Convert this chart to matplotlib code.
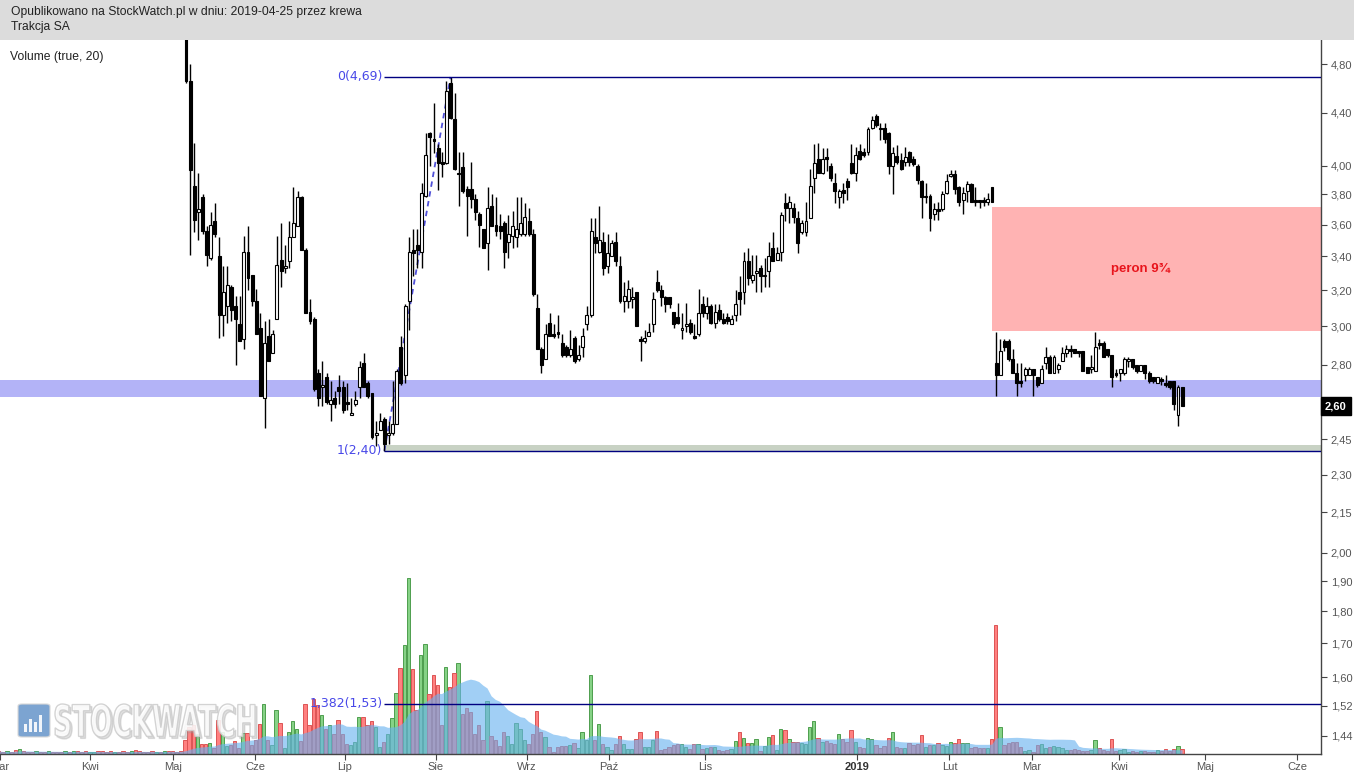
import numpy as np
import pandas as pd
import matplotlib
matplotlib.use('Agg')
import matplotlib.pyplot as plt
import matplotlib.ticker as mticker
from matplotlib.patches import Rectangle, FancyBboxPatch, PathPatch
from matplotlib.textpath import TextPath
from matplotlib.font_manager import FontProperties
from matplotlib.transforms import Affine2D

plt.rcParams['font.family'] = ['Liberation Sans', 'DejaVu Sans']

# ---------------- data (sessions from 1 Mar 2018, index = session number) ----------------
first_candle = 45   # earlier sessions trade above the visible price range

opens = [5.15, 4.66, 3.86, 3.68, 3.78, 3.56, 3.39, 3.62, 3.40, 3.06,
         3.11, 3.22, 3.11, 3.01, 2.93, 3.43, 3.29, 3.14, 2.99, 2.64,
         2.95, 2.86, 3.04, 3.38, 3.33, 3.37, 3.52, 3.59, 3.78, 3.44,
         3.08, 3.04, 2.76, 2.69, 2.74, 2.61, 2.64, 2.69, 2.69, 2.62,
         2.56, 2.61, 2.69, 2.81, 2.71, 2.66, 2.47, 2.49, 2.54, 2.47,
         2.48, 2.52, 2.89, 2.75, 3.14, 3.44, 3.47, 3.43, 3.79, 4.24,
         4.20, 4.13, 4.03, 4.02, 4.64, 4.35, 3.94, 3.99, 3.84, 3.84,
         3.77, 3.67, 3.57, 3.48, 3.72, 3.60, 3.59, 3.61, 3.49, 3.53,
         3.52, 3.54, 3.54, 3.62, 3.54, 3.10, 2.88, 2.83, 3.02, 2.96,
         2.97, 2.91, 2.89, 2.85, 2.94, 2.83, 2.89, 3.01, 3.06, 3.52,
         3.43, 3.49, 3.34, 3.40, 3.49, 3.34, 3.14, 3.14, 3.15, 3.19,
         2.93, 2.92, 2.95, 3.01, 3.25, 3.20, 3.16, 3.16, 3.08, 3.05,
         2.98, 3.00, 3.02, 2.95, 2.96, 3.12, 3.07, 3.11, 3.02, 3.09,
         3.04, 3.05, 3.01, 3.06, 3.19, 3.19, 3.37, 3.26, 3.30, 3.33,
         3.28, 3.31, 3.45, 3.38, 3.43, 3.74, 3.71, 3.71, 3.64, 3.55,
         3.55, 3.64, 3.91, 4.05, 3.95, 4.06, 4.00, 3.88, 3.78, 3.83,
         3.89, 4.02, 3.95, 4.11, 4.10, 4.10, 4.28, 4.37, 4.28, 4.28,
         4.24, 4.00, 4.07, 4.04, 4.03, 4.10, 4.05, 4.00, 3.89, 3.78,
         3.79, 3.67, 3.70, 3.70, 3.81, 3.93, 3.94, 3.85, 3.76, 3.82,
         3.87, 3.76, 3.76, 3.76, 3.75, 3.85, 2.81, 2.75, 2.92, 2.92,
         2.83, 2.76, 2.72, 2.75, 2.75, 2.78, 2.74, 2.71, 2.81, 2.84,
         2.76, 2.78, 2.82, 2.86, 2.88, 2.88, 2.87, 2.87, 2.79, 2.78,
         2.77, 2.91, 2.91, 2.88, 2.85, 2.76, 2.76, 2.76, 2.82, 2.83,
         2.80, 2.77, 2.80, 2.76, 2.74, 2.71, 2.73, 2.71, 2.72, 2.72,
         2.56, 2.69]

highs = [5.25, 4.80, 4.17, 3.95, 3.80, 3.59, 3.68, 3.74, 3.52, 3.34,
         3.34, 3.23, 3.17, 3.17, 3.53, 3.59, 3.29, 3.21, 3.07, 3.03,
         3.04, 2.98, 3.53, 3.61, 3.47, 3.62, 3.85, 3.82, 3.79, 3.45,
         3.15, 3.05, 2.78, 2.82, 2.76, 2.72, 2.67, 2.75, 2.72, 2.71,
         2.64, 2.67, 2.82, 2.86, 2.72, 2.66, 2.53, 2.57, 2.55, 2.53,
         2.72, 2.78, 2.95, 3.12, 3.52, 3.57, 3.57, 3.88, 4.24, 4.25,
         4.48, 4.16, 4.10, 4.66, 4.69, 4.56, 4.10, 4.10, 3.86, 4.03,
         3.80, 3.68, 3.57, 3.85, 3.80, 3.78, 3.67, 3.62, 3.66, 3.69,
         3.78, 3.78, 3.74, 3.71, 3.57, 3.18, 2.89, 3.01, 3.07, 3.01,
         3.06, 2.96, 2.90, 2.98, 2.95, 2.90, 2.99, 3.11, 3.64, 3.64,
         3.72, 3.55, 3.54, 3.50, 3.55, 3.40, 3.25, 3.26, 3.22, 3.19,
         2.95, 2.98, 3.02, 3.19, 3.32, 3.23, 3.17, 3.16, 3.08, 3.13,
         3.07, 3.13, 3.04, 3.01, 3.21, 3.17, 3.16, 3.12, 3.12, 3.12,
         3.07, 3.07, 3.06, 3.20, 3.28, 3.43, 3.45, 3.41, 3.41, 3.35,
         3.39, 3.49, 3.55, 3.46, 3.68, 3.81, 3.79, 3.74, 3.69, 3.63,
         3.75, 3.98, 4.16, 4.17, 4.13, 4.13, 4.02, 3.95, 3.84, 3.88,
         3.91, 4.16, 4.14, 4.16, 4.13, 4.29, 4.37, 4.39, 4.32, 4.32,
         4.25, 4.14, 4.15, 4.09, 4.14, 4.11, 4.07, 4.01, 3.90, 3.88,
         3.80, 3.74, 3.75, 3.82, 3.94, 3.97, 3.97, 3.86, 3.85, 3.89,
         3.88, 3.85, 3.76, 3.78, 3.81, 3.85, 2.97, 2.93, 2.93, 2.93,
         2.88, 2.81, 2.81, 2.79, 2.79, 2.78, 2.74, 2.80, 2.89, 2.85,
         2.85, 2.81, 2.89, 2.90, 2.90, 2.88, 2.87, 2.87, 2.79, 2.85,
         2.97, 2.93, 2.92, 2.88, 2.85, 2.78, 2.78, 2.84, 2.84, 2.83,
         2.80, 2.80, 2.80, 2.77, 2.74, 2.74, 2.74, 2.75, 2.72, 2.72,
         2.70, 2.69]

lows = [4.64, 3.41, 3.55, 3.50, 3.54, 3.34, 3.38, 3.52, 2.94, 2.95,
        3.02, 3.03, 2.80, 2.92, 2.88, 3.20, 3.11, 2.96, 2.65, 2.50,
        2.82, 2.86, 3.04, 3.22, 3.30, 3.33, 3.52, 3.59, 3.44, 3.07,
        3.01, 2.67, 2.60, 2.60, 2.61, 2.53, 2.59, 2.61, 2.57, 2.58,
        2.56, 2.60, 2.64, 2.69, 2.64, 2.45, 2.42, 2.49, 2.40, 2.43,
        2.47, 2.52, 2.70, 2.71, 2.98, 3.28, 3.33, 3.33, 3.78, 4.00,
        4.09, 3.83, 3.92, 4.01, 4.35, 3.97, 3.72, 3.81, 3.53, 3.71,
        3.63, 3.46, 3.45, 3.32, 3.59, 3.53, 3.51, 3.33, 3.39, 3.45,
        3.46, 3.53, 3.53, 3.53, 3.17, 2.88, 2.76, 2.83, 2.95, 2.94,
        2.94, 2.84, 2.84, 2.84, 2.81, 2.82, 2.84, 2.98, 3.05, 3.42,
        3.42, 3.29, 3.30, 3.40, 3.34, 3.13, 3.08, 3.10, 3.10, 3.00,
        2.82, 2.91, 2.95, 2.97, 3.19, 3.11, 3.08, 3.10, 2.99, 3.01,
        2.93, 2.97, 2.96, 2.93, 2.95, 3.05, 3.04, 3.01, 2.99, 3.03,
        3.01, 3.01, 3.01, 3.03, 3.06, 3.12, 3.23, 3.24, 3.19, 3.19,
        3.22, 3.22, 3.37, 3.38, 3.37, 3.62, 3.61, 3.61, 3.42, 3.54,
        3.53, 3.64, 3.81, 3.95, 3.94, 3.96, 3.89, 3.74, 3.71, 3.74,
        3.76, 3.94, 3.89, 4.04, 4.06, 4.08, 4.27, 4.29, 4.19, 4.17,
        3.94, 3.80, 4.01, 3.97, 4.00, 4.00, 4.00, 3.87, 3.64, 3.74,
        3.56, 3.63, 3.63, 3.69, 3.80, 3.92, 3.80, 3.72, 3.67, 3.75,
        3.75, 3.72, 3.71, 3.72, 3.73, 3.75, 2.65, 2.75, 2.87, 2.82,
        2.76, 2.65, 2.69, 2.72, 2.75, 2.65, 2.69, 2.71, 2.78, 2.76,
        2.76, 2.76, 2.82, 2.84, 2.84, 2.86, 2.84, 2.77, 2.76, 2.76,
        2.77, 2.88, 2.84, 2.84, 2.69, 2.74, 2.72, 2.75, 2.79, 2.78,
        2.76, 2.77, 2.73, 2.71, 2.71, 2.71, 2.70, 2.69, 2.68, 2.58,
        2.51, 2.60]

closes = [4.66, 3.97, 3.63, 3.70, 3.56, 3.41, 3.60, 3.54, 3.06, 3.19,
          3.23, 3.09, 3.04, 2.92, 3.43, 3.27, 3.14, 2.96, 2.65, 2.91,
          2.82, 2.96, 3.35, 3.31, 3.34, 3.52, 3.61, 3.78, 3.44, 3.07,
          3.03, 2.68, 2.64, 2.70, 2.62, 2.63, 2.61, 2.67, 2.58, 2.61,
          2.57, 2.63, 2.79, 2.69, 2.65, 2.46, 2.48, 2.53, 2.43, 2.48,
          2.52, 2.77, 2.71, 3.11, 3.43, 3.42, 3.44, 3.81, 4.08, 4.21,
          4.18, 4.02, 4.01, 4.57, 4.36, 3.98, 3.95, 3.82, 3.79, 3.77,
          3.68, 3.60, 3.45, 3.71, 3.59, 3.56, 3.56, 3.43, 3.54, 3.59,
          3.57, 3.61, 3.65, 3.54, 3.18, 2.88, 2.80, 2.96, 2.95, 2.95,
          2.96, 2.85, 2.85, 2.88, 2.82, 2.85, 2.95, 3.06, 3.56, 3.48,
          3.50, 3.33, 3.42, 3.48, 3.37, 3.14, 3.17, 3.21, 3.16, 3.00,
          2.92, 2.94, 2.97, 3.15, 3.20, 3.16, 3.12, 3.12, 3.01, 3.02,
          2.99, 3.01, 2.97, 2.94, 3.07, 3.07, 3.11, 3.02, 3.08, 3.04,
          3.02, 3.03, 3.04, 3.12, 3.15, 3.37, 3.27, 3.29, 3.31, 3.28,
          3.29, 3.40, 3.37, 3.42, 3.66, 3.71, 3.75, 3.65, 3.48, 3.61,
          3.62, 3.86, 4.02, 3.95, 4.05, 4.05, 3.91, 3.82, 3.82, 3.81,
          3.85, 3.95, 4.08, 4.05, 4.08, 4.27, 4.34, 4.30, 4.27, 4.20,
          4.00, 4.09, 4.03, 3.98, 4.06, 4.03, 4.01, 3.90, 3.78, 3.79,
          3.64, 3.70, 3.69, 3.80, 3.89, 3.94, 3.84, 3.75, 3.81, 3.87,
          3.75, 3.75, 3.75, 3.75, 3.77, 3.75, 2.75, 2.87, 2.89, 2.83,
          2.76, 2.71, 2.71, 2.78, 2.78, 2.75, 2.70, 2.78, 2.84, 2.76,
          2.84, 2.80, 2.86, 2.88, 2.87, 2.86, 2.86, 2.77, 2.76, 2.79,
          2.89, 2.90, 2.84, 2.85, 2.74, 2.75, 2.78, 2.83, 2.83, 2.79,
          2.77, 2.80, 2.76, 2.72, 2.72, 2.74, 2.72, 2.70, 2.69, 2.61,
          2.69, 2.60]

# volume in thousand shares, every session from 1 Mar 2018
volume = [30, 20, 30, 20, 40, 50, 30, 20, 20, 30, 20, 20, 30, 20, 20,
          20, 30, 20, 30, 30, 20, 30, 20, 20, 30, 30, 20, 30, 20, 20,
          30, 20, 30, 40, 30, 20, 20, 30, 20, 20, 30, 30, 30, 20, 30,
          140, 270, 290, 200, 100, 100, 110, 60, 340, 220,
          80, 90, 130, 60, 210, 210, 90, 140, 300, 500,
          140, 90, 440, 310, 60, 220, 330, 250, 130, 500,
          290, 550, 490, 390, 250, 290, 200, 340, 200, 100,
          90, 120, 370, 370, 290, 330, 270, 70, 120, 200,
          360, 610, 860, 1090, 1760, 850, 440, 990, 1100, 600,
          790, 690, 290, 870, 670, 810, 910, 400, 460, 420,
          200, 290, 140, 530, 180, 140, 80, 220, 180, 100,
          310, 250, 140, 100, 200, 430, 220, 170, 70, 20,
          70, 80, 80, 90, 110, 60, 220, 140, 790, 140,
          300, 100, 70, 40, 100, 180, 100, 50, 50, 150,
          220, 70, 70, 140, 230, 40, 50, 70, 90, 100,
          100, 70, 50, 100, 100, 50, 60, 70, 70, 40,
          30, 40, 50, 130, 220, 160, 110, 110, 150, 30,
          80, 170, 190, 40, 250, 240, 150, 120, 120, 110,
          100, 270, 330, 160, 120, 130, 110, 100, 200, 150,
          120, 240, 120, 70, 60, 160, 150, 90, 60, 80,
          160, 220, 70, 60, 60, 110, 90, 100, 190, 70,
          90, 90, 110, 90, 80, 120, 110, 150, 110, 110,
          60, 70, 60, 60, 60, 150, 1290, 270, 90, 110,
          120, 120, 70, 30, 40, 20, 90, 100, 60, 70,
          80, 70, 60, 40, 40, 50, 40, 30, 30, 40,
          140, 60, 40, 30, 150, 30, 40, 50, 20, 30,
          20, 30, 30, 20, 20, 40, 30, 50, 30, 50,
          80, 50]
# up / down sessions before the first drawn candle
early_dir = "dduddudddu" "ddudddudud" "dduuddddud" "ddudddddud" "udddd"

month_pos = [0, 21.8, 41.9, 61.7, 83.4, 105.4, 127.4, 147.3, 170.5,
             207.4, 229.7, 249.7, 270.8, 291.6, 313.8]
month_lab = ['Mar', 'Kwi', 'Maj', 'Cze', 'Lip', 'Sie', 'Wrz', 'Paź', 'Lis',
             '2019', 'Lut', 'Mar', 'Kwi', 'Maj', 'Cze']
price_ticks = [4.80, 4.40, 4.00, 3.80, 3.60, 3.40, 3.20, 3.00, 2.80, 2.45,
               2.30, 2.15, 2.00, 1.90, 1.80, 1.70, 1.60, 1.52, 1.44]

fib_lo_idx, fib_lo = 93, 2.40
fib_hi_idx, fib_hi = 109, 4.69
support_band = (2.645, 2.725)
floor_band = (2.40, 2.425)
peron_start = 240
peron_band = (2.975, 3.715)
last_close = 2.60
ma_len = 20

# ---------------- figure ----------------
W, H = 1354, 774
fig = plt.figure(figsize=(W / 100, H / 100), dpi=100)
fig.add_artist(Rectangle((0, 1 - 40 / H), 1, 40 / H, transform=fig.transFigure,
                         fc='#dcdcdc', ec='none'))
fig.text(11 / W, 1 - 12 / H, 'Opublikowano na StockWatch.pl w dniu: 2019-04-25 przez krewa',
         fontsize=8.7, va='center', color='#222222')
fig.text(11 / W, 1 - 27 / H, 'Trakcja SA', fontsize=8.7, va='center', color='#222222')

rect = [0, 1 - 754 / H, 1321 / W, 714 / H]
axv = fig.add_axes(rect)
ax = fig.add_axes(rect)
ax.patch.set_visible(False)
XL = (0.28, 319.6)

# volume panel
n = len(volume)
days = np.arange(n)
cdays = np.arange(first_candle, first_candle + len(closes))
o, hi, lo, c = map(np.array, (opens, highs, lows, closes))
up = np.array([ch == 'u' for ch in early_dir] + list(c >= o))
vol = np.array(volume)
ma = pd.Series(vol).rolling(ma_len, min_periods=1).mean().values

axv.bar(days[up], vol[up], width=0.8, color='#86d286', edgecolor='#4e9e4e', lw=0.7)
axv.bar(days[~up], vol[~up], width=0.8, color='#ff8080', edgecolor='#dc5454', lw=0.7)
axv.fill_between(days, 0, ma, color='#68b2f0', alpha=0.62, lw=0)
axv.set_xlim(*XL)
axv.set_ylim(0, 7140)
axv.axis('off')

# price panel
ax.set_yscale('log')
ax.set_ylim(1.394, 5.011)
ax.set_xlim(*XL)

ax.axhspan(*support_band, color='#b3b3f7', lw=0, zorder=1)
ax.add_patch(Rectangle((peron_start, peron_band[0]), 400, peron_band[1] - peron_band[0],
                       fc='#ffb3b3', ec='none', zorder=1))
ax.text(peron_start + 36, np.sqrt(peron_band[0] * peron_band[1]), 'peron 9¾',
        color='#e8141c', fontsize=9.5, fontweight='bold', ha='center', va='center', zorder=5)
ax.add_patch(Rectangle((fib_lo_idx, floor_band[0]), 400, floor_band[1] - floor_band[0],
                       fc='#c8d2c4', ec='none', zorder=1))

fib_ext = fib_hi - 1.382 * (fib_hi - fib_lo)
ax.hlines([fib_hi, fib_lo, fib_ext], fib_lo_idx, 400, color='#000080', lw=1, zorder=6)
lab_col = '#4848e8'
for lvl, txt in [(fib_hi, '0'), (fib_lo, '1'), (fib_ext, '1,382')]:
    ax.text(fib_lo_idx - 0.5, lvl, f'{txt}({lvl:.2f})'.replace('.', ','), color=lab_col,
            fontsize=9, ha='right', va='center', family='DejaVu Sans', zorder=6)
ax.plot([fib_lo_idx, fib_hi_idx], [fib_lo, fib_hi], color='#5050d8', lw=1.3,
        ls=(0, (3, 2.5)), zorder=2)

# candles
ax.vlines(cdays, lo, hi, color='black', lw=1, zorder=3)
ax.bar(cdays, np.abs(c - o), bottom=np.minimum(o, c), width=0.72,
       color=np.where(c >= o, 'white', 'black'), edgecolor='black', lw=0.8, zorder=4)

# axes styling
ax.yaxis.tick_right()
ax.yaxis.set_major_locator(mticker.FixedLocator(price_ticks))
ax.yaxis.set_minor_locator(mticker.NullLocator())
ax.yaxis.set_major_formatter(mticker.FuncFormatter(lambda v, p: f'{v:.2f}'.replace('.', ',')))
ax.tick_params(axis='y', direction='out', length=4, width=0.8, color='#444444',
               labelsize=8, labelcolor='#555555', pad=3)
ax.set_xticks(month_pos)
ax.set_xticklabels(month_lab)
ax.tick_params(axis='x', direction='out', length=4, width=0.8, color='#444444',
               labelsize=8, labelcolor='#555555', pad=2)
for t in ax.get_xticklabels():
    if t.get_text() == '2019':
        t.set_fontweight('bold')
        t.set_color('#333333')
for s in ['top', 'left']:
    ax.spines[s].set_visible(False)
for s in ['right', 'bottom']:
    ax.spines[s].set_color('#444444')
    ax.spines[s].set_linewidth(1)

ax.text(1.0 + 4 / 1321, last_close, f'{last_close:.2f}'.replace('.', ','),
        transform=ax.get_yaxis_transform(), ha='left', va='center', fontsize=8,
        fontweight='bold', color='white', clip_on=False, zorder=10,
        bbox=dict(boxstyle='square,pad=0.35', fc='black', ec='black'))

fig.text(10 / W, 1 - 57 / H, 'Volume (true, 20)', fontsize=8.7, va='center', color='#222222')

# watermark
icon = FancyBboxPatch((18 / W, 1 - 737 / H), 32 / W, 33 / H,
                      boxstyle='round,pad=0,rounding_size=0.003', transform=fig.transFigure,
                      fc='#5b8ec6', ec='#d8d8d8', lw=1, alpha=0.8)
fig.add_artist(icon)
for k, bh in enumerate([8, 13, 10, 17]):
    fig.add_artist(Rectangle(((24 + 5 * k) / W, 1 - 732 / H), 3 / W, bh / H,
                             transform=fig.transFigure, fc='white', ec='none', alpha=0.9))
fp = FontProperties(family='DejaVu Sans', weight='bold')
tp = TextPath((0, 0), 'STOCKWATCH', size=10, prop=fp)
bb = tp.get_extents()
x0, x1, y0, y1 = 55, 255, 704, 737
sx = (x1 - x0) / bb.width / W
sy = (y1 - y0) / bb.height / H
for dx, dy, fc, ec, a in [(2, -2, '#999999', '#999999', 0.3), (0, 0, 'white', '#cccccc', 0.85)]:
    tr = (Affine2D().translate(-bb.x0, -bb.y0).scale(sx, sy)
          .translate((x0 + dx) / W, 1 - y1 / H + dy / H) + fig.transFigure)
    fig.add_artist(PathPatch(tp, transform=tr, fc=fc, ec=ec, lw=1.0, alpha=a))

fig.savefig('out.png', dpi=100)
